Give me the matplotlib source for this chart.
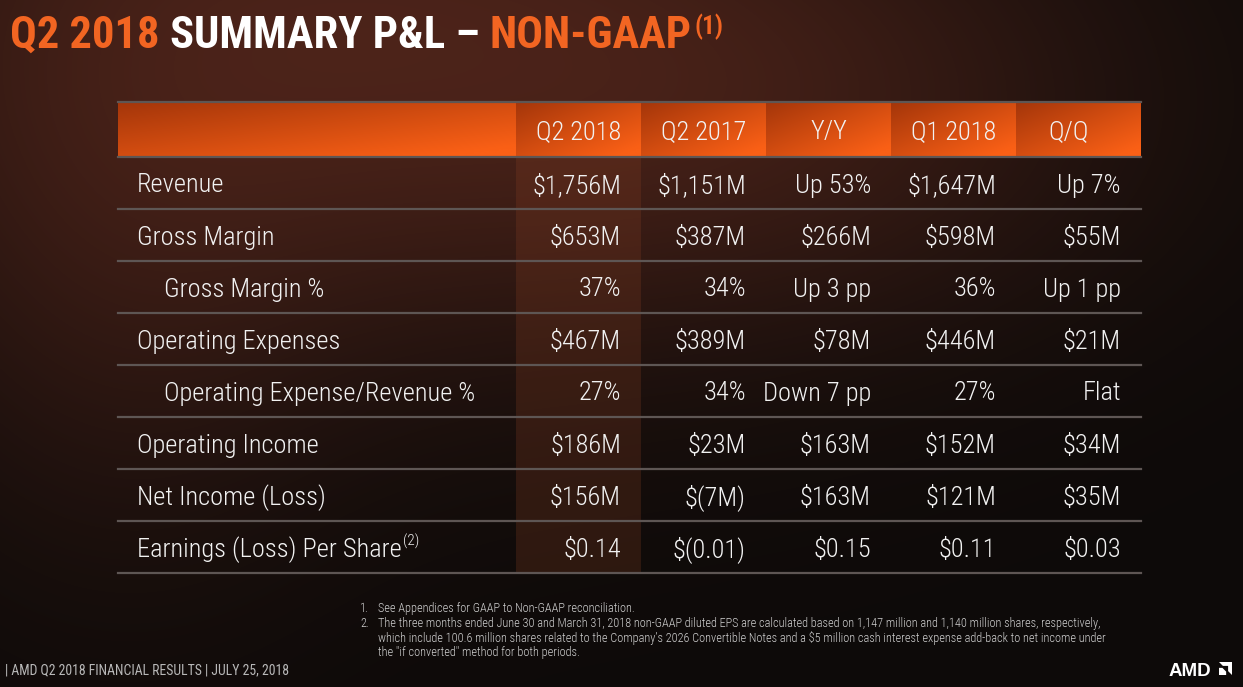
import numpy as np
import matplotlib.pyplot as plt
from matplotlib.patches import Rectangle, Polygon

plt.rcParams['text.parse_math'] = False
plt.rcParams['font.family'] = ['Roboto Condensed', 'Roboto', 'DejaVu Sans']

W, H = 1243, 687

# table content
col_headers = ["Q2 2018", "Q2 2017", "Y/Y", "Q1 2018", "Q/Q"]
row_labels = ["Revenue", "Gross Margin", "Gross Margin %", "Operating Expenses",
              "Operating Expense/Revenue %", "Operating Income",
              "Net Income (Loss)", "Earnings (Loss) Per Share"]
row_indent = [0, 0, 1, 0, 1, 0, 0, 0]
q2_2018 = ["$1,756M", "$653M", "37%", "$467M", "27%", "$186M", "$156M", "$0.14"]
q2_2017 = ["$1,151M", "$387M", "34%", "$389M", "34%", "$23M", "$(7M)", "$(0.01)"]
y_y = ["Up 53%", "$266M", "Up 3 pp", "$78M", "Down 7 pp", "$163M", "$163M", "$0.15"]
q1_2018 = ["$1,647M", "$598M", "36%", "$446M", "27%", "$152M", "$121M", "$0.11"]
q_q = ["Up 7%", "$55M", "Up 1 pp", "$21M", "Flat", "$34M", "$35M", "$0.03"]
columns = [q2_2018, q2_2017, y_y, q1_2018, q_q]

footnotes = [
    ("1.", "See Appendices for GAAP to Non-GAAP reconciliation."),
    ("2.", "The three months ended June 30 and March 31, 2018 non-GAAP diluted EPS are calculated based on 1,147 million and 1,140 million shares, respectively,"),
    ("", "which include 100.6 million shares related to the Company\u2019s 2026 Convertible Notes and a $5 million cash interest expense add-back to net income under"),
    ("", "the \"if converted\" method for both periods."),
]
footer = "| AMD Q2 2018 FINANCIAL RESULTS | JULY 25, 2018"

ORANGE = "#f26522"
TXT = "#f2f2f2"
LINE = "#5e5654"

fig = plt.figure(figsize=(W / 100, H / 100), dpi=100)
ax = fig.add_axes([0, 0, 1, 1])
ax.set_xlim(0, W)
ax.set_ylim(H, 0)
ax.axis("off")

# background: dark with a muted warm glow
gy, gx = np.mgrid[0:H, 0:W]
def glow(cx, cy, rx, ry):
    return np.exp(-(((gx - cx) / rx) ** 2 + ((gy - cy) / ry) ** 2))
base = np.array([13, 10, 9]) / 255
warm = np.array([78, 36, 26]) / 255
g = 0.85 * glow(300, 20, 520, 330) + 0.45 * glow(800, 110, 380, 230) + 0.25 * glow(120, 330, 220, 300)
g = np.clip(g, 0, 1)
bg = base + g[..., None] * (warm - base)
ax.imshow(bg, extent=[0, W, H, 0], aspect="auto", zorder=0)

# table geometry
x_left, x_right = 118, 1141
col_x = [516, 641, 766, 891, 1016, 1141]
head_top, head_bot = 102, 157
row_h = 52
n = len(row_labels)

# header cells with diagonal orange gradient
dark = np.array([165, 54, 10]) / 255
bright = np.array([250, 96, 22]) / 255
def grad_cell(x0, x1, y0, y1):
    u = np.linspace(0, 1, 80)[None, :]
    v = np.linspace(0, 1, 30)[:, None]
    t = np.clip(0.55 * u + 0.55 * v, 0, 1)
    im = dark + t[..., None] * (bright - dark)
    ax.imshow(im, extent=[x0, x1, y1, y0], aspect="auto", zorder=1,
              interpolation="bilinear")

grad_cell(x_left, col_x[0], head_top, head_bot)
for i in range(5):
    grad_cell(col_x[i], col_x[i + 1], head_top, head_bot)

# highlighted Q2 2018 column
ax.add_patch(Rectangle((col_x[0], head_bot), col_x[1] - col_x[0], n * row_h,
                       color="#8a4024", alpha=0.25, lw=0, zorder=1))

# grid lines
for y in [head_top, head_bot] + [head_bot + row_h * (k + 1) for k in range(n)]:
    ax.plot([x_left, x_right], [y, y], color=LINE, lw=1.6, zorder=2)

FS = 19
WT = "light"
hy = (head_top + head_bot) / 2
for i, h in enumerate(col_headers):
    if h in ("Y/Y", "Q/Q"):
        ax.text((col_x[i] + col_x[i + 1]) / 2 - (10 if h == "Q/Q" else 0), hy, h,
                ha="center", va="center_baseline", color=TXT, fontsize=FS,
                weight=WT, zorder=3)
    else:
        ax.text(col_x[i + 1] - 20, hy, h, ha="right", va="center_baseline",
                color=TXT, fontsize=FS, weight=WT, zorder=3)

for r, lab in enumerate(row_labels):
    cy = head_bot + row_h * r + row_h / 2
    t = ax.text(137 + 27 * row_indent[r], cy, lab, ha="left", va="center_baseline",
                color=TXT, fontsize=FS, weight=WT, zorder=3)
    if r == n - 1:
        ax.annotate("(2)", xy=(1, 1), xycoords=t, xytext=(1, 2), textcoords="offset points",
                    ha="left", va="top", color=TXT, fontsize=11, weight=WT, zorder=3)
    for i, col in enumerate(columns):
        ax.text(col_x[i + 1] - 20, cy, col[r], ha="right", va="center_baseline",
                color=TXT, fontsize=FS, weight=WT, zorder=3)

# title
TS = 32
t1 = ax.text(10, 48, "Q2 2018 ", color=ORANGE, fontsize=TS, weight="bold",
             va="baseline", zorder=3)
t2 = ax.annotate("SUMMARY P&L \u2013 ", xy=(1, 0), xycoords=t1, va="bottom",
                 color="white", fontsize=TS, weight="bold", zorder=3)
t3 = ax.annotate("NON-GAAP", xy=(1, 0), xycoords=t2, va="bottom",
                 color=ORANGE, fontsize=TS, weight="bold", zorder=3)
ax.annotate("(1)", xy=(1, 1), xycoords=t3, xytext=(2, 1), textcoords="offset points",
            va="top", color=ORANGE, fontsize=18, weight="bold", zorder=3)

# footnotes
for k, (num, txt) in enumerate(footnotes):
    y = 607 + 14.8 * k
    if num:
        ax.text(360, y, num, ha="left", va="center_baseline", color="#d0d0d0",
                fontsize=8.8, weight=WT)
    ax.text(378, y, txt, ha="left", va="center_baseline", color="#d0d0d0",
            fontsize=8.8, weight=WT)

ax.text(5, 669, footer, ha="left", va="center_baseline", color="#b8b8b8", fontsize=9.9)

# AMD logo
ax.text(1169, 676, "AMD", ha="left", va="baseline", color="white", fontsize=13.5,
        weight="bold", family=["Liberation Sans", "DejaVu Sans"])
lx, ly, s = 1219, 662, 13
outer = [(0, 0), (1, 0), (1, 1), (0.7, 0.7), (0.7, 0.3), (0.3, 0.3)]
inner = [(0, 1), (0, 0.45), (0.26, 0.45), (0.55, 0.74), (0.55, 1)]
for poly in (outer, inner):
    ax.add_patch(Polygon([(lx + px * s, ly + py * s) for px, py in poly],
                         closed=True, color="white", lw=0, zorder=3))

fig.savefig("out.png", dpi=100)
